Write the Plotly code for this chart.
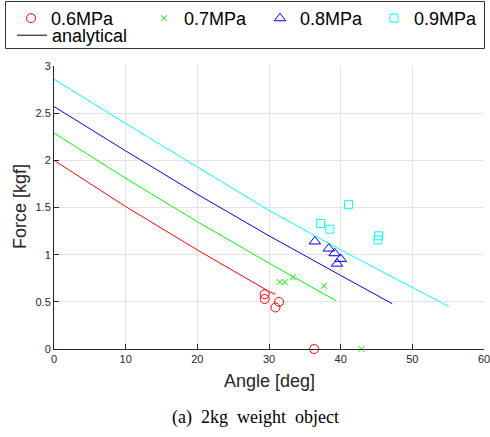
import plotly.graph_objects as go

# analytical curves
ana_06_x = [0, 10, 20, 30, 30.9]
ana_06_y = [2.00, 1.51, 1.05, 0.61, 0.58]
ana_07_x = [0, 10, 20, 30, 39.4]
ana_07_y = [2.29, 1.81, 1.35, 0.91, 0.51]
ana_08_x = [0, 10, 20, 30, 40, 47.2]
ana_08_y = [2.57, 2.10, 1.64, 1.20, 0.78, 0.48]
ana_09_x = [0, 10, 20, 30, 40, 50, 55.1]
ana_09_y = [2.86, 2.39, 1.93, 1.47, 1.05, 0.65, 0.45]

# measured points
m06_x = [29.4, 29.4, 31.4, 30.9, 36.3]
m06_y = [0.58, 0.53, 0.50, 0.44, 0.0]
m07_x = [31.5, 32.2, 33.3, 37.7, 42.9]
m07_y = [0.71, 0.71, 0.76, 0.67, 0.0]
m08_x = [36.4, 38.35, 39.15, 40.0, 39.5]
m08_y = [1.14, 1.065, 1.015, 0.955, 0.905]
m09_x = [41.1, 37.2, 38.5, 45.3, 45.2]
m09_y = [1.53, 1.33, 1.27, 1.20, 1.157]

labels = ["0.6MPa", "0.7MPa", "0.8MPa", "0.9MPa", "analytical"]
colors = ["#ff0000", "#00ff00", "#0000ff", "#00ffff"]

x_ticks = [0, 10, 20, 30, 40, 50, 60]
y_ticks = [0, 0.5, 1, 1.5, 2, 2.5, 3]

W, H = 490, 437
pl, pr, pt, pb = 54, 484, 66, 349
def fx(px):
    return px / W
def fy(py):
    return 1 - py / H

# legend frame pixel box (left, right, top, bottom) and the overlay axis area around it
box_l, box_r, box_t, box_b = 5.5, 484.5, 1.5, 48.5
dom_l, dom_r, dom_t, dom_b = 3, 487, 0, 51

fig = go.Figure()

# legend frame, drawn on its own hidden unit axes over the legend area
fig.add_trace(go.Scatter(x=[0, 1, 1, 0, 0], y=[0, 0, 1, 1, 0], mode="lines",
                         xaxis="x2", yaxis="y2", showlegend=False,
                         hoverinfo="skip", line=dict(color="#333333", width=1)))

for xs, ys, c in [(ana_06_x, ana_06_y, colors[0]), (ana_07_x, ana_07_y, colors[1]),
                  (ana_08_x, ana_08_y, colors[2]), (ana_09_x, ana_09_y, colors[3])]:
    fig.add_trace(go.Scatter(x=xs, y=ys, mode="lines", line=dict(color=c, width=1),
                             showlegend=False, hoverinfo="skip"))

syms = [("circle-open", 9), ("x-thin-open", 6), ("triangle-up-open", 10), ("square-open", 8)]
leg_names = ["legend2", "legend3", "legend4", "legend5"]
for (xs, ys), c, (s, sz), lab, ln in zip(
        [(m06_x, m06_y), (m07_x, m07_y), (m08_x, m08_y), (m09_x, m09_y)],
        colors, syms, labels[:4], leg_names):
    fig.add_trace(go.Scatter(x=xs, y=ys, mode="markers", name=lab, cliponaxis=False,
                             legend=ln,
                             marker=dict(symbol=s, size=sz, color=c,
                                         line=dict(color=c, width=1))))

fig.add_trace(go.Scatter(x=[None], y=[None], mode="lines", name=labels[4], legend="legend6",
                         line=dict(color="black", width=1)))

leg_common = dict(orientation="h", xanchor="left", yanchor="top", borderwidth=0,
                  bgcolor="rgba(0,0,0,0)", font=dict(size=18, color="black"),
                  itemwidth=30)

legend_left_px = [11, 144, 260, 374]
legends = {}
for ln, lx in zip(leg_names, legend_left_px):
    legends[ln] = dict(**leg_common, x=fx(lx), y=fy(0))
legends["legend6"] = dict(**leg_common, x=fx(12), y=fy(17))

axis_common = dict(ticks="inside", ticklen=5, tickcolor="#262626", showline=True,
                   linecolor="#262626", linewidth=1, showgrid=True, gridcolor="#e3e3e3",
                   gridwidth=1, zeroline=False, mirror=False,
                   tickfont=dict(size=11, color="#262626"), ticklabeloverflow="allow")

bw, bh = box_r - box_l, box_b - box_t
x2_range = [-(box_l - dom_l) / bw, 1 + (dom_r - box_r) / bw]
y2_range = [-(dom_b - box_b) / bh, 1 + (box_t - dom_t) / bh]

fig.update_layout(
    width=W, height=H,
    margin=dict(l=0, r=0, t=0, b=0, autoexpand=False),
    paper_bgcolor="white", plot_bgcolor="white",
    font=dict(family="Liberation Sans, Arial, sans-serif", color="#262626"),
    showlegend=True,
    **legends,
    xaxis=dict(domain=[fx(pl), fx(pr)], range=[0, 60], tickvals=x_ticks, **axis_common),
    yaxis=dict(domain=[fy(pb), fy(pt)], range=[0, 3], tickvals=y_ticks, **axis_common),
    xaxis2=dict(domain=[fx(dom_l), fx(dom_r)], range=x2_range, visible=False,
                fixedrange=True, anchor="y2"),
    yaxis2=dict(domain=[fy(dom_b), fy(dom_t)], range=y2_range, visible=False,
                fixedrange=True, anchor="x2"),
    annotations=[
        dict(text="Angle [deg]", x=fx(269), y=fy(381), xref="paper", yref="paper",
             showarrow=False, font=dict(size=18, color="#262626"),
             xanchor="center", yanchor="middle"),
        dict(text="Force [kgf]", x=fx(20), y=fy(207), xref="paper", yref="paper",
             showarrow=False, font=dict(size=18, color="#262626"), textangle=-90,
             xanchor="center", yanchor="middle"),
        dict(text="(a)  2kg  weight  object", x=fx(255), y=fy(417),
             xref="paper", yref="paper", showarrow=False,
             font=dict(size=18, color="black",
                       family="Liberation Serif, Times New Roman, serif"),
             xanchor="center", yanchor="middle"),
    ],
)

fig.write_html("out.html", config={"displayModeBar": False},
               post_script="document.body.style.margin='0';")
